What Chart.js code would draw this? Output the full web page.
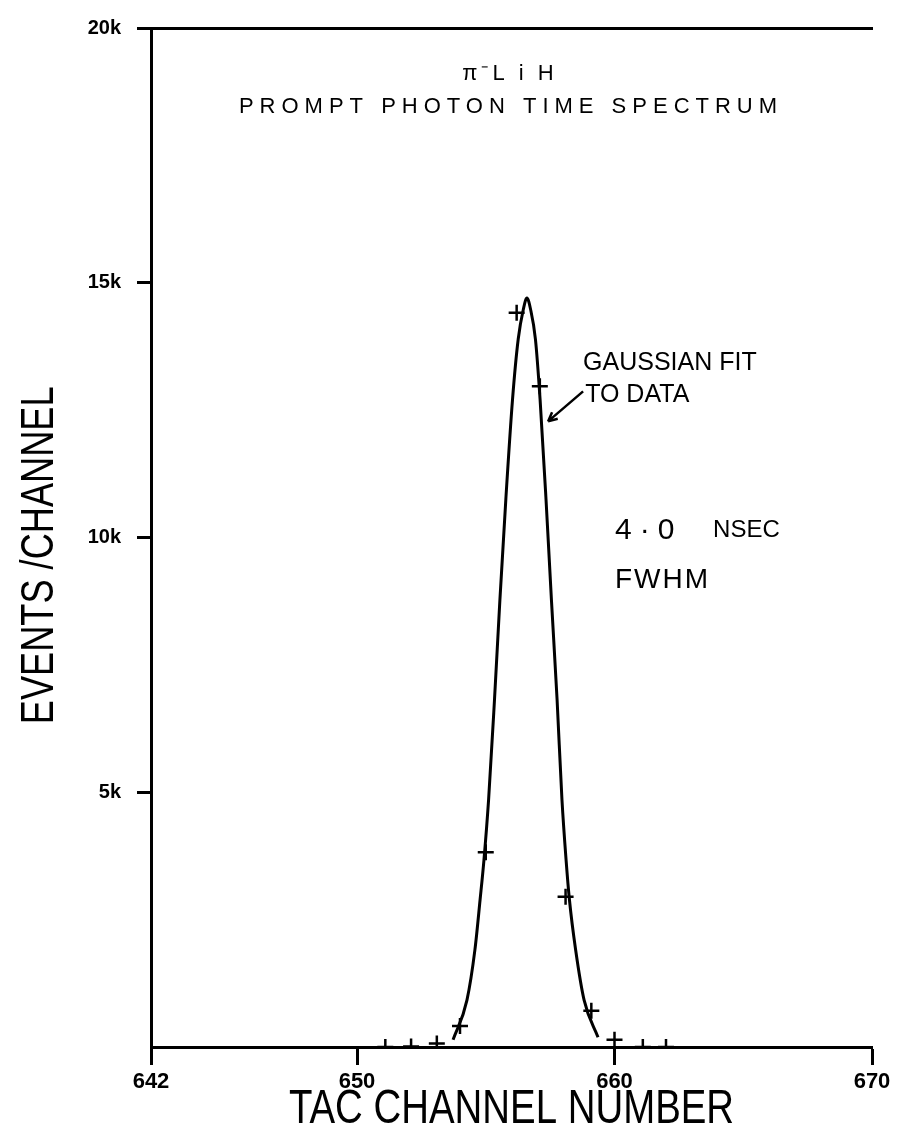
<!DOCTYPE html>
<html>
<head>
<meta charset="utf-8">
<script src="https://cdn.jsdelivr.net/npm/chart.js@4.4.1/dist/chart.umd.min.js"></script>
<style>
  html, body { margin: 0; padding: 0; background: #fff; }
  canvas { display: block; }
</style>
</head>
<body>
<canvas id="spectrum" width="906" height="1134"></canvas>
<script>
// axis ranges and tick values
const xTicks = [642, 650, 660, 670];
const yMax = 20000;
const yStep = 5000;
const yTickLabels = { 5000: '5k', 10000: '10k', 15000: '15k', 20000: '20k' };

// measured counts per TAC channel
const dataChannels = [651.1, 652.1, 653.1, 654.0, 655.0, 656.2, 657.1, 658.1, 659.1, 660.0, 661.1, 662.0];
const dataCounts   = [0, 10, 70, 410, 3820, 14410, 12970, 2950, 710, 140, 0, 0];

// gaussian fit curve
const fitChannels = [653.73, 654.27, 654.58, 654.78, 654.93, 655.11, 655.34, 655.55, 655.78, 656.04, 656.26, 656.46, 656.60,
                     656.74, 656.93, 657.11, 657.34, 657.55, 657.77, 657.96, 658.12, 658.25, 658.49, 658.82, 659.36];
const fitCounts   = [140, 920, 1910, 2890, 3670, 4850, 6820, 8780, 10750, 12710, 13890, 14480, 14700,
                     14480, 13890, 12710, 10750, 8780, 6820, 4850, 3670, 2890, 1910, 920, 190];

const xTitle = 'TAC CHANNEL NUMBER';
const yTitle = 'EVENTS /CHANNEL';

const sans = '"Liberation Sans", Arial, sans-serif';

const toPoints = (xs, ys) => xs.map((x, i) => ({ x: x, y: ys[i] }));

// draws text squeezed horizontally (tall lettering-guide look)
function squeezed(ctx, str, x, y, font, sx, rot) {
    ctx.save();
    ctx.translate(x, y);
    if (rot) ctx.rotate(rot);
    ctx.scale(sx, 1);
    ctx.font = font;
    ctx.fillStyle = '#000';
    ctx.textAlign = 'center';
    ctx.textBaseline = 'middle';
    ctx.fillText(str, 0, 0);
    ctx.restore();
}

// axis titles and text labels placed in data coordinates
const annotations = {
    id: 'annotations',
    afterDraw(chart) {
        const ctx = chart.ctx;
        const xs = chart.scales.x, ys = chart.scales.y;
        const px = v => xs.getPixelForValue(v);
        const py = v => ys.getPixelForValue(v);
        const area = chart.chartArea;

        squeezed(ctx, xTitle, (area.left + area.right) / 2, xs.bottom - 24, '48px ' + sans, 0.8);
        squeezed(ctx, yTitle, ys.left + 40, py(9650), '47px ' + sans, 0.77, -Math.PI / 2);

        function text(str, x, y, font, align, spacing) {
            ctx.save();
            ctx.font = font;
            ctx.fillStyle = '#000';
            ctx.textAlign = align;
            ctx.textBaseline = 'middle';
            ctx.letterSpacing = spacing || '0px';
            ctx.fillText(str, px(x), py(y));
            ctx.restore();
        }

        text('\u03C0\u207BL i H', 655.94, 19096, '22px ' + sans, 'center', '4px');
        text('PROMPT PHOTON TIME SPECTRUM', 655.98, 18447, '22px ' + sans, 'center', '6px');

        text('GAUSSIAN FIT', 658.78, 13418, '25px ' + sans, 'left');
        text('TO DATA', 658.86, 12790, '25px ' + sans, 'left');

        text('4\u00B70', 660.02, 10137, '30px ' + sans, 'left', '8px');
        text('NSEC', 663.83, 10137, '24px ' + sans, 'left');
        text('FWHM', 660.02, 9155, '28px ' + sans, 'left', '2px');

        // pointer from the label to the curve
        const x1 = px(658.78), y1 = py(12868);
        const x2 = px(657.42), y2 = py(12279);
        const ang = Math.atan2(y2 - y1, x2 - x1);
        ctx.save();
        ctx.strokeStyle = '#000';
        ctx.lineWidth = 2.5;
        ctx.beginPath();
        ctx.moveTo(x1, y1);
        ctx.lineTo(x2, y2);
        ctx.moveTo(x2, y2);
        ctx.lineTo(x2 - 10 * Math.cos(ang - 0.45), y2 - 10 * Math.sin(ang - 0.45));
        ctx.moveTo(x2, y2);
        ctx.lineTo(x2 - 10 * Math.cos(ang + 0.45), y2 - 10 * Math.sin(ang + 0.45));
        ctx.stroke();
        ctx.restore();
    }
};

new Chart(document.getElementById('spectrum'), {
    type: 'scatter',
    data: {
        datasets: [
            {
                label: 'Gaussian fit',
                data: toPoints(fitChannels, fitCounts),
                xAxisID: 'x',
                showLine: true,
                cubicInterpolationMode: 'monotone',
                borderColor: '#000',
                borderWidth: 3,
                pointRadius: 0
            },
            {
                label: 'Data',
                data: toPoints(dataChannels, dataCounts),
                xAxisID: 'x',
                pointStyle: 'cross',
                pointRadius: 8,
                borderColor: '#000',
                borderWidth: 2.5,
                backgroundColor: '#000'
            }
        ]
    },
    options: {
        responsive: false,
        animation: false,
        layout: { padding: { top: 28, right: 34, left: 0, bottom: 0 } },
        plugins: {
            legend: { display: false },
            tooltip: { enabled: false }
        },
        scales: {
            x: {
                type: 'linear',
                position: 'bottom',
                min: 642,
                max: 670,
                afterBuildTicks: s => { s.ticks = xTicks.map(v => ({ value: v })); },
                afterFit: s => { s.height = 87; },
                grid: {
                    drawOnChartArea: false,
                    drawTicks: true,
                    tickLength: 18,
                    tickWidth: 3,
                    tickColor: '#000'
                },
                border: { display: true, color: '#000', width: 3 },
                ticks: {
                    color: '#000',
                    padding: 4,
                    autoSkip: false,
                    maxRotation: 0,
                    font: { family: sans, size: 22, weight: 'bold' },
                    callback: v => String(v)
                }
            },
            xTop: {
                type: 'linear',
                position: 'top',
                min: 642,
                max: 670,
                afterFit: s => { s.height = 0; },
                grid: { display: false },
                ticks: { display: false },
                border: { display: true, color: '#000', width: 3 }
            },
            y: {
                type: 'linear',
                min: 0,
                max: yMax,
                afterFit: s => { s.width = 151; },
                grid: {
                    drawOnChartArea: false,
                    drawTicks: true,
                    tickLength: 14,
                    tickWidth: 3,
                    tickColor: c => (c.tick && c.tick.value === 0) ? 'rgba(0,0,0,0)' : '#000'
                },
                border: { display: true, color: '#000', width: 3 },
                ticks: {
                    stepSize: yStep,
                    color: '#000',
                    padding: 16,
                    font: { family: sans, size: 20, weight: 'bold' },
                    callback: v => yTickLabels[v] || ''
                }
            }
        }
    },
    plugins: [annotations]
});
</script>
</body>
</html>
